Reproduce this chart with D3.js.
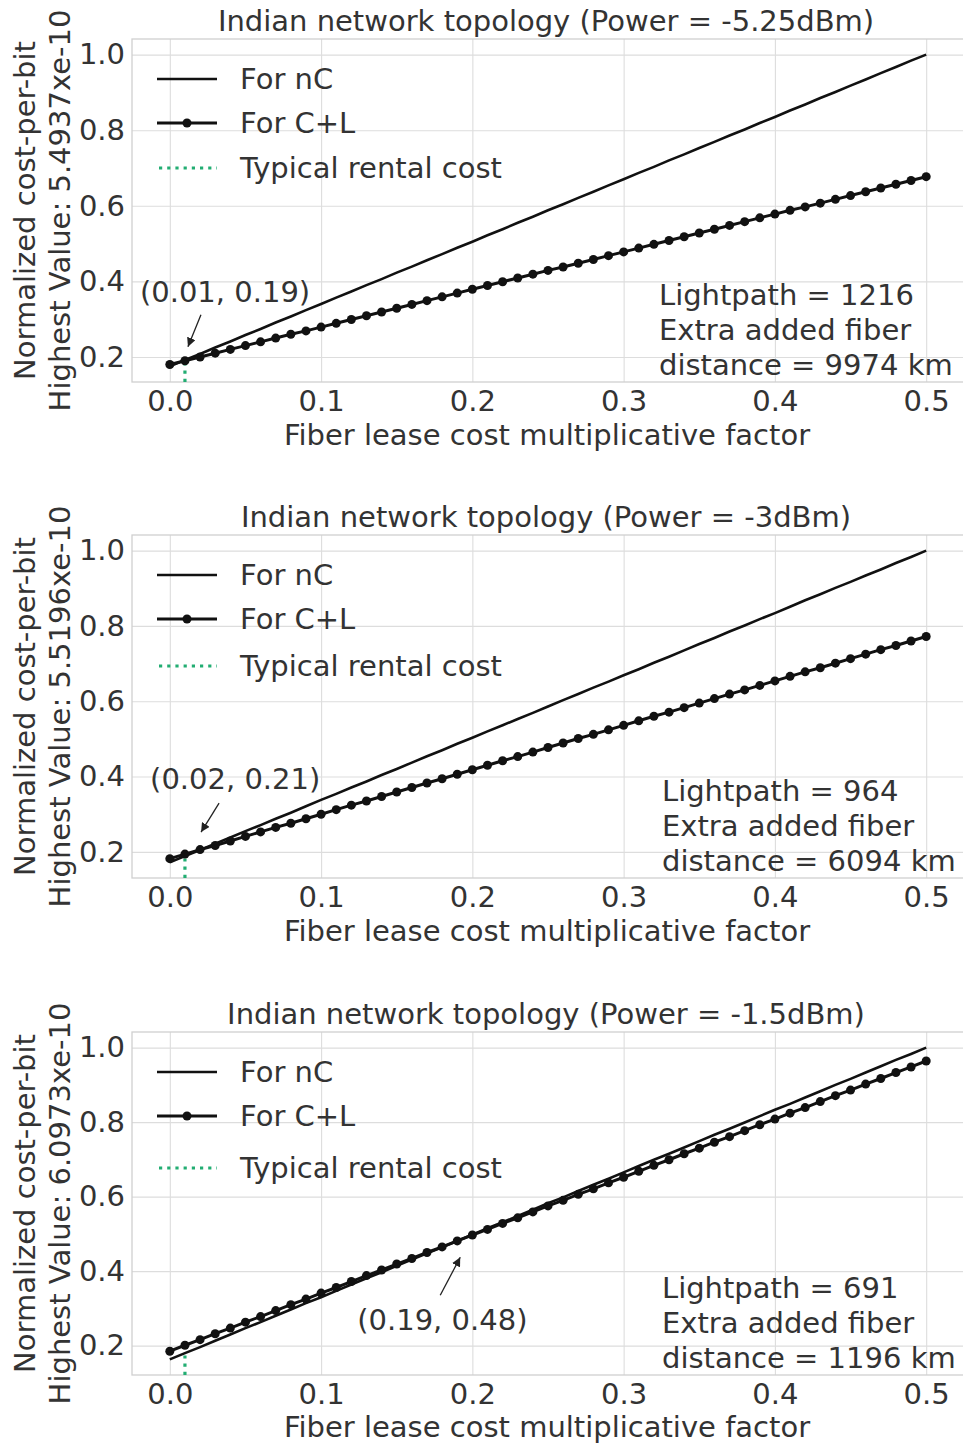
<!DOCTYPE html>
<html>
<head>
<meta charset="utf-8">
<script src="https://cdn.jsdelivr.net/npm/d3@7"></script>
<style>
  body { margin: 0; background: #fff; }
  text { font-family: "DejaVu Sans", sans-serif; fill: #333; }
</style>
</head>
<body>
<div id="chart"></div>
<script>
// lease cost multiplicative factor (x)
const leaseFactor = [0.00, 0.01, 0.02, 0.03, 0.04, 0.05, 0.06, 0.07, 0.08, 0.09,
  0.10, 0.11, 0.12, 0.13, 0.14, 0.15, 0.16, 0.17, 0.18, 0.19,
  0.20, 0.21, 0.22, 0.23, 0.24, 0.25, 0.26, 0.27, 0.28, 0.29,
  0.30, 0.31, 0.32, 0.33, 0.34, 0.35, 0.36, 0.37, 0.38, 0.39,
  0.40, 0.41, 0.42, 0.43, 0.44, 0.45, 0.46, 0.47, 0.48, 0.49, 0.50]

// Power = -5.25dBm
const nC_525 = [0.175, 0.192, 0.208, 0.225, 0.241, 0.258, 0.274, 0.291, 0.307, 0.324,
  0.340, 0.357, 0.373, 0.390, 0.406, 0.423, 0.439, 0.456, 0.472, 0.489,
  0.505, 0.522, 0.538, 0.555, 0.571, 0.588, 0.604, 0.621, 0.637, 0.654,
  0.670, 0.687, 0.703, 0.720, 0.736, 0.753, 0.769, 0.786, 0.802, 0.819,
  0.835, 0.852, 0.868, 0.885, 0.901, 0.918, 0.934, 0.951, 0.967, 0.984, 1.000]
const cl_525 = [0.180, 0.190, 0.200, 0.210, 0.220, 0.230, 0.240, 0.250, 0.260, 0.269,
  0.279, 0.289, 0.299, 0.309, 0.319, 0.329, 0.339, 0.349, 0.359, 0.369,
  0.379, 0.389, 0.399, 0.409, 0.419, 0.429, 0.438, 0.448, 0.458, 0.468,
  0.478, 0.488, 0.498, 0.508, 0.518, 0.528, 0.538, 0.548, 0.558, 0.568,
  0.578, 0.588, 0.597, 0.607, 0.617, 0.627, 0.637, 0.647, 0.657, 0.667, 0.677]

// Power = -3dBm
const nC_3 = [0.172, 0.189, 0.205, 0.222, 0.238, 0.255, 0.271, 0.288, 0.304, 0.321,
  0.338, 0.354, 0.371, 0.387, 0.404, 0.420, 0.437, 0.454, 0.470, 0.487,
  0.503, 0.520, 0.536, 0.553, 0.569, 0.586, 0.603, 0.619, 0.636, 0.652,
  0.669, 0.685, 0.702, 0.718, 0.735, 0.752, 0.768, 0.785, 0.801, 0.818,
  0.834, 0.851, 0.868, 0.884, 0.901, 0.917, 0.934, 0.950, 0.967, 0.983, 1.000]
const cl_3 = [0.182, 0.194, 0.206, 0.217, 0.229, 0.241, 0.253, 0.265, 0.276, 0.288,
  0.300, 0.312, 0.324, 0.335, 0.347, 0.359, 0.371, 0.383, 0.394, 0.406,
  0.418, 0.430, 0.442, 0.453, 0.465, 0.477, 0.489, 0.501, 0.512, 0.524,
  0.536, 0.548, 0.560, 0.571, 0.583, 0.595, 0.607, 0.619, 0.630, 0.642,
  0.654, 0.666, 0.678, 0.689, 0.701, 0.713, 0.725, 0.737, 0.748, 0.760, 0.772]

// Power = -1.5dBm
const nC_15 = [0.163, 0.180, 0.196, 0.213, 0.230, 0.247, 0.263, 0.280, 0.297, 0.314,
  0.330, 0.347, 0.364, 0.381, 0.397, 0.414, 0.431, 0.448, 0.464, 0.481,
  0.498, 0.515, 0.531, 0.548, 0.565, 0.582, 0.598, 0.615, 0.632, 0.648,
  0.665, 0.682, 0.699, 0.715, 0.732, 0.749, 0.766, 0.782, 0.799, 0.816,
  0.833, 0.849, 0.866, 0.883, 0.900, 0.916, 0.933, 0.950, 0.967, 0.983, 1.000]
const cl_15 = [0.185, 0.201, 0.216, 0.232, 0.247, 0.263, 0.278, 0.294, 0.310, 0.325,
  0.341, 0.356, 0.372, 0.388, 0.403, 0.419, 0.434, 0.450, 0.465, 0.481,
  0.497, 0.512, 0.528, 0.543, 0.559, 0.575, 0.590, 0.606, 0.621, 0.637,
  0.652, 0.668, 0.684, 0.699, 0.715, 0.730, 0.746, 0.761, 0.777, 0.793,
  0.808, 0.824, 0.839, 0.855, 0.871, 0.886, 0.902, 0.917, 0.933, 0.948, 0.964]

const titles = ['Indian network topology (Power = -5.25dBm)',
  'Indian network topology (Power = -3dBm)',
  'Indian network topology (Power = -1.5dBm)']
const highestValues = ['5.4937xe-10', '5.5196xe-10', '6.0973xe-10']
const lightpaths = [1216, 964, 691]
const extraFiberKm = [9974, 6094, 1196]
const rentalFactor = 0.01
const rentalTop = [0.192, 0.19, 0.18]
const annotations = [
  {x: 0.01, y: 0.19, label: '(0.01, 0.19)'},
  {x: 0.02, y: 0.21, label: '(0.02, 0.21)'},
  {x: 0.19, y: 0.48, label: '(0.19, 0.48)'}
]
const xTicks = [0.0, 0.1, 0.2, 0.3, 0.4, 0.5]
const yTicks = [0.2, 0.4, 0.6, 0.8, 1.0]
const legendLabels = ['For nC', 'For C+L', 'Typical rental cost']

const ncSeries = [nC_525, nC_3, nC_15]
const clSeries = [cl_525, cl_3, cl_15]

// layout (px)
const W = 963, H = 1443
const panelTops = [0, 496, 993]
const ax = {left: 132, right: 964, top: 39, bottom: 382}
const legendRows = [[79, 123, 168], [79, 123, 170], [79, 123, 175]]
const xLabelY = [445, 445, 444]
// annotation text / arrow offsets relative to the annotated point
const annOffsets = [
  {tx: -45, ty: -59, ax1: 16, ay1: -46, ax2: 3, ay2: -14},
  {tx: -50, ty: -59, ax1: 19, ay1: -45, ax2: 1, ay2: -16},
  {tx: -100, ty: 89, ax1: -17, ay1: 54, ax2: 3, ay2: 16}
]
const green = '#22ad72'
const fs = 29

const svg = d3.select('#chart').append('svg')
  .attr('width', W).attr('height', H)

svg.append('defs').append('marker')
  .attr('id', 'arrowhead')
  .attr('viewBox', '0 0 10 10')
  .attr('refX', 10).attr('refY', 5)
  .attr('markerWidth', 9).attr('markerHeight', 9)
  .attr('markerUnits', 'userSpaceOnUse')
  .attr('orient', 'auto')
  .append('path').attr('d', 'M0,0 L10,5 L0,10 Z').attr('fill', '#222')

const x = d3.scaleLinear().domain([-0.025, 0.525]).range([ax.left, ax.right])

panelTops.forEach((top, i) => {
  const g = svg.append('g').attr('transform', `translate(0,${top})`)
  const nc = ncSeries[i]
  const cl = clSeries[i]
  const lo = d3.min([...nc, ...cl])
  const hi = d3.max([...nc, ...cl])
  const pad = (hi - lo) * 0.05
  const y = d3.scaleLinear().domain([lo - pad, hi + pad]).range([ax.bottom, ax.top])

  const clipId = 'clip' + i
  g.append('clipPath').attr('id', clipId)
    .append('rect')
    .attr('x', ax.left).attr('y', ax.top)
    .attr('width', ax.right - ax.left).attr('height', ax.bottom - ax.top)

  // grid
  g.append('g')
    .attr('transform', `translate(0,${ax.bottom})`)
    .call(d3.axisBottom(x).tickValues(xTicks).tickSize(-(ax.bottom - ax.top)).tickFormat(''))
    .call(s => s.select('.domain').remove())
    .selectAll('line').attr('stroke', '#dddddd').attr('stroke-width', 1.1)
  g.append('g')
    .attr('transform', `translate(${ax.left},0)`)
    .call(d3.axisLeft(y).tickValues(yTicks).tickSize(-(ax.right - ax.left)).tickFormat(''))
    .call(s => s.select('.domain').remove())
    .selectAll('line').attr('stroke', '#dddddd').attr('stroke-width', 1.1)

  // frame
  g.append('rect')
    .attr('x', ax.left).attr('y', ax.top)
    .attr('width', ax.right - ax.left).attr('height', ax.bottom - ax.top)
    .attr('fill', 'none').attr('stroke', '#d0d0d0').attr('stroke-width', 1.3)

  // tick labels
  const xa = g.append('g')
    .attr('transform', `translate(0,${ax.bottom})`)
    .call(d3.axisBottom(x).tickValues(xTicks).tickSize(0).tickPadding(8).tickFormat(d3.format('.1f')))
  xa.select('.domain').remove()
  xa.selectAll('text').attr('font-size', fs).attr('fill', '#333')
    .attr('font-family', '"DejaVu Sans", sans-serif')

  const ya = g.append('g')
    .attr('transform', `translate(${ax.left},0)`)
    .call(d3.axisLeft(y).tickValues(yTicks).tickSize(0).tickPadding(7).tickFormat(d3.format('.1f')))
  ya.select('.domain').remove()
  ya.selectAll('text').attr('font-size', fs).attr('fill', '#333')
    .attr('font-family', '"DejaVu Sans", sans-serif')

  const plot = g.append('g').attr('clip-path', `url(#${clipId})`)

  // typical rental cost
  plot.append('line')
    .attr('x1', x(rentalFactor)).attr('x2', x(rentalFactor))
    .attr('y1', y(y.domain()[0])).attr('y2', y(rentalTop[i]))
    .attr('stroke', green).attr('stroke-width', 3.2)
    .attr('stroke-dasharray', '3.2,5')

  const line = d3.line().x((d, k) => x(leaseFactor[k])).y(d => y(d))

  plot.append('path').datum(nc)
    .attr('d', line).attr('fill', 'none')
    .attr('stroke', '#111').attr('stroke-width', 2.6)

  plot.append('path').datum(cl)
    .attr('d', line).attr('fill', 'none')
    .attr('stroke', '#111').attr('stroke-width', 3)

  plot.selectAll('circle.cl').data(cl).join('circle')
    .attr('class', 'cl')
    .attr('cx', (d, k) => x(leaseFactor[k]))
    .attr('cy', d => y(d))
    .attr('r', 4.5)
    .attr('fill', '#111')

  // legend
  const leg = g.append('g')
  const rowsY = legendRows[i]
  leg.append('line').attr('x1', 157).attr('x2', 217).attr('y1', rowsY[0]).attr('y2', rowsY[0])
    .attr('stroke', '#111').attr('stroke-width', 2.6)
  leg.append('line').attr('x1', 157).attr('x2', 217).attr('y1', rowsY[1]).attr('y2', rowsY[1])
    .attr('stroke', '#111').attr('stroke-width', 3)
  leg.append('circle').attr('cx', 187).attr('cy', rowsY[1]).attr('r', 4.5).attr('fill', '#111')
  leg.append('line').attr('x1', 159).attr('x2', 217).attr('y1', rowsY[2]).attr('y2', rowsY[2])
    .attr('stroke', green).attr('stroke-width', 3.2).attr('stroke-dasharray', '3.2,5')
  leg.selectAll('text').data(legendLabels).join('text')
    .attr('x', 240).attr('y', (d, k) => rowsY[k] + 10)
    .attr('font-size', fs)
    .text(d => d)

  // title
  g.append('text')
    .attr('x', (ax.left + ax.right) / 2 - 2).attr('y', 31)
    .attr('text-anchor', 'middle').attr('font-size', fs)
    .text(titles[i])

  // axis labels
  g.append('text')
    .attr('x', (ax.left + ax.right) / 2 - 1).attr('y', xLabelY[i])
    .attr('text-anchor', 'middle').attr('font-size', fs)
    .text('Fiber lease cost multiplicative factor')
  const cy = (ax.top + ax.bottom) / 2
  g.append('text')
    .attr('transform', `translate(35,${cy}) rotate(-90)`)
    .attr('text-anchor', 'middle').attr('font-size', fs)
    .text('Normalized cost-per-bit')
  g.append('text')
    .attr('transform', `translate(70,${cy}) rotate(-90)`)
    .attr('text-anchor', 'middle').attr('font-size', fs)
    .text('Highest Value: ' + highestValues[i])

  // info text
  const info = ['Lightpath = ' + lightpaths[i], 'Extra added fiber',
    'distance = ' + extraFiberKm[i] + ' km']
  g.append('g').selectAll('text').data(info).join('text')
    .attr('x', i === 0 ? 659 : 662)
    .attr('y', (d, k) => 305 + k * 35)
    .attr('font-size', fs)
    .text(d => d)

  // annotation
  const a = annotations[i]
  const o = annOffsets[i]
  const px = x(a.x), py = y(a.y)
  g.append('text')
    .attr('x', px + o.tx).attr('y', py + o.ty)
    .attr('font-size', fs)
    .text(a.label)
  g.append('line')
    .attr('x1', px + o.ax1).attr('y1', py + o.ay1)
    .attr('x2', px + o.ax2).attr('y2', py + o.ay2)
    .attr('stroke', '#222').attr('stroke-width', 1.3)
    .attr('marker-end', 'url(#arrowhead)')
})
</script>
</body>
</html>
